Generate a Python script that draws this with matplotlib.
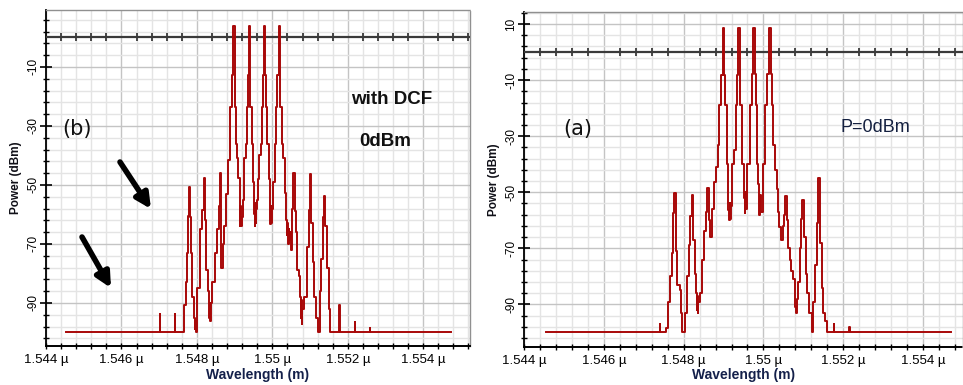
import numpy as np
import matplotlib
matplotlib.use("Agg")
import matplotlib.pyplot as plt
from matplotlib.ticker import MultipleLocator, FuncFormatter

plt.rcParams['font.family'] = ['Liberation Sans', 'DejaVu Sans']

# ---- data (wavelength in nm, power in dBm) ----
# panel (b): with DCF, 0 dBm  (step trace vertices)
wl_b = [1544.54, 1547.01, 1547.03, 1547.41, 1547.43, 1547.67, 1547.71, 1547.74,
        1547.77, 1547.79, 1547.82, 1547.85, 1547.88, 1547.93, 1547.95, 1547.96,
        1547.97, 1547.99, 1548.01, 1548.08, 1548.14, 1548.18, 1548.21, 1548.24,
        1548.30, 1548.31, 1548.32, 1548.33, 1548.34, 1548.36, 1548.38, 1548.41,
        1548.47, 1548.53, 1548.58, 1548.61, 1548.64, 1548.68, 1548.72, 1548.77,
        1548.83, 1548.87, 1548.92, 1548.97, 1549.00, 1549.04, 1549.07, 1549.10,
        1549.13, 1549.14, 1549.15, 1549.16, 1549.17, 1549.18, 1549.20, 1549.22,
        1549.25, 1549.29, 1549.32, 1549.35, 1549.38, 1549.41, 1549.45, 1549.48,
        1549.52, 1549.54, 1549.55, 1549.56, 1549.58, 1549.60, 1549.62, 1549.65,
        1549.69, 1549.72, 1549.75, 1549.78, 1549.81, 1549.84, 1549.87, 1549.90,
        1549.93, 1549.94, 1549.95, 1549.96, 1549.97, 1549.99, 1550.02, 1550.06,
        1550.10, 1550.13, 1550.18, 1550.21, 1550.25, 1550.28, 1550.33, 1550.36,
        1550.38, 1550.40, 1550.42, 1550.44, 1550.45, 1550.47, 1550.49, 1550.53,
        1550.56, 1550.59, 1550.62, 1550.66, 1550.71, 1550.74, 1550.76, 1550.77,
        1550.78, 1550.79, 1550.85, 1550.91, 1550.96, 1550.99, 1551.02, 1551.07,
        1551.11, 1551.17, 1551.21, 1551.26, 1551.30, 1551.35, 1551.37, 1551.40,
        1551.46, 1551.51, 1551.54, 1551.78, 1551.80, 1552.18, 1552.20, 1552.58,
        1552.60, 1554.74]
pw_b = [-100, -93.8, -100, -93.8, -100, -90.7, -83, -73,
        -60.7, -50.6, -61, -73, -88, -95, -99, -96,
        -100, -96, -85, -65, -58.5, -47.6, -62, -79,
        -86, -93, -88, -95, -90, -96, -90, -83,
        -73, -65, -57, -45.8, -78, -70, -64, -53,
        -41.5, -23.5, -12.7, 3.9, -23.5, -36, -41, -47.7,
        -60, -64, -57, -64, -59, -64, -61, -55,
        -41, -36, -23.5, -12.7, 3.9, -23.5, -36, -49,
        -60, -64, -56, -63, -58, -55, -48, -40,
        -36, -23.5, -12.7, 3.9, -12.7, -23.5, -36, -48,
        -62, -55, -63.4, -57, -63, -58, -49, -36,
        -23.5, -12.7, 3.9, -23.5, -36, -41, -52.7, -62,
        -67, -63, -70, -65, -68.6, -66, -72, -58,
        -46, -59, -66, -79, -81, -88, -95, -89,
        -97, -92, -88, -71, -58.5, -46.3, -63, -76,
        -88, -95, -100, -86, -75, -61, -53.7, -64,
        -78, -92, -100, -90.7, -100, -96.3, -100, -98.6,
        -100, -100]

# panel (a): P = 0 dBm
wl_a = [1544.55, 1547.40, 1547.42, 1547.57, 1547.60, 1547.65, 1547.70, 1547.74,
        1547.77, 1547.80, 1547.84, 1547.90, 1547.93, 1547.97, 1548.03, 1548.08,
        1548.13, 1548.17, 1548.20, 1548.23, 1548.28, 1548.32, 1548.33, 1548.34,
        1548.35, 1548.37, 1548.40, 1548.45, 1548.50, 1548.55, 1548.59, 1548.63,
        1548.67, 1548.71, 1548.75, 1548.80, 1548.85, 1548.89, 1548.94, 1548.98,
        1549.01, 1549.04, 1549.08, 1549.12, 1549.14, 1549.15, 1549.17, 1549.19,
        1549.22, 1549.27, 1549.31, 1549.33, 1549.37, 1549.41, 1549.46, 1549.50,
        1549.52, 1549.54, 1549.55, 1549.57, 1549.60, 1549.66, 1549.71, 1549.75,
        1549.78, 1549.81, 1549.84, 1549.87, 1549.89, 1549.90, 1549.92, 1549.94,
        1549.98, 1550.05, 1550.09, 1550.14, 1550.18, 1550.21, 1550.24, 1550.29,
        1550.33, 1550.36, 1550.40, 1550.43, 1550.48, 1550.52, 1550.55, 1550.58,
        1550.61, 1550.66, 1550.70, 1550.75, 1550.78, 1550.80, 1550.82, 1550.84,
        1550.87, 1550.92, 1550.95, 1550.97, 1551.01, 1551.06, 1551.10, 1551.14,
        1551.21, 1551.25, 1551.29, 1551.33, 1551.36, 1551.41, 1551.46, 1551.50,
        1551.55, 1551.59, 1551.76, 1551.78, 1552.15, 1552.17, 1554.69]
pw_a = [-100, -96.9, -100, -98.4, -89, -80, -71.8, -57.4,
        -50.4, -71, -83, -85, -93, -100, -93, -80,
        -69, -58.6, -51, -67, -79, -86, -92, -87,
        -93, -89, -86, -74, -64, -57, -48.6, -60,
        -66, -56, -46.4, -41, -33.2, -18.9, -8.2, 8.5,
        -8.2, -18.9, -39.8, -56.5, -60, -54, -59.6, -55,
        -39.8, -35, -18.9, -8.2, 8.5, -18.9, -39.8, -46,
        -52, -57.5, -50, -56, -40, -18.9, -8, 8.5,
        -8, -18.9, -40, -47, -53, -58.2, -51, -57,
        -40, -18.9, -8, 8.5, -8, -18.9, -33, -42,
        -49, -57, -62.4, -67, -62, -58, -51.2, -60,
        -70, -74, -78, -81, -86, -91, -93, -88,
        -82, -70, -59.6, -52.9, -66, -79, -86, -93,
        -100, -89, -76, -61, -45.1, -68, -84, -93,
        -96, -100, -97.1, -100, -98, -100, -100]

# ---- figure ----
W, H = 963, 385
fig = plt.figure(figsize=(W / 100, H / 100), dpi=100)

line_c = '#a80808'
label_c = '#101018'


def style_axes(ax, ylim, xlim):
    ax.set_xlim(*xlim)
    ax.set_ylim(*ylim)
    ax.xaxis.set_major_locator(MultipleLocator(0.002))
    ax.xaxis.set_minor_locator(MultipleLocator(0.0004))
    ax.yaxis.set_major_locator(MultipleLocator(20, offset=10))
    ax.yaxis.set_minor_locator(MultipleLocator(4, offset=2))
    ax.xaxis.set_major_formatter(FuncFormatter(lambda v, p: f"{v:.4g} \u00b5"))
    ax.yaxis.set_major_formatter(FuncFormatter(lambda v, p: f"{v:g}"))
    ax.grid(which='major', color='#c4c4c4', lw=1.0)
    ax.grid(which='minor', color='#e4e4e4', lw=1.0)
    ax.set_axisbelow(True)
    ax.tick_params(axis='y', which='major', direction='inout', length=8, width=1.2,
                   labelsize=8.5, labelrotation=90, pad=1)
    ax.tick_params(axis='y', which='minor', direction='inout', length=5, width=1)
    ax.tick_params(axis='x', which='both', direction='inout', length=4, width=1,
                   labelsize=9.5, pad=4)
    for lab in ax.get_yticklabels():
        lab.set_va('center')
    for s in ('top', 'right'):
        ax.spines[s].set_linestyle((0, (1, 1)))
        ax.spines[s].set_color('#909090')
        ax.spines[s].set_linewidth(1.0)
    ax.spines['bottom'].set_linestyle((0, (1, 1)))
    ax.spines['bottom'].set_linewidth(1.4)
    ax.spines['left'].set_linewidth(1.3)
    # zero-dBm reference line with its small ticks
    ax.axhline(0, color='#3a3a3a', lw=1.6, zorder=3)
    xs = ax.xaxis.get_minorticklocs()
    xs = xs[(xs > xlim[0]) & (xs < xlim[1])]
    ax.plot(xs, np.zeros_like(xs), ls='', marker='|', ms=6, mew=1.3,
            color='#3a3a3a', zorder=3)
    ax.set_xlabel('Wavelength (m)', fontsize=10, fontweight='bold',
                  color='#14204a', labelpad=1)
    ax.set_ylabel('Power (dBm)', fontsize=8.5, fontweight='bold', color=label_c,
                  labelpad=4)


# left panel (b)
ax1 = fig.add_axes([46 / W, 1 - 346 / H, 424 / W, 336 / H])
ax1.plot(np.array(wl_b) / 1000, pw_b, drawstyle='steps-post', color=line_c,
         lw=1.4, zorder=4)
style_axes(ax1, (-104.6, 9.3), (1.544, 1.55524))
ax1.text(0.073, 0.646, '(b)', transform=ax1.transAxes, fontsize=15,
         family='DejaVu Sans', color='#111111', ha='center', va='center')
ax1.text(0.815, 0.735, 'with DCF', transform=ax1.transAxes, fontsize=13.5,
         fontweight='bold', ha='center', va='center', color='#111111')
ax1.text(0.80, 0.61, '0dBm', transform=ax1.transAxes, fontsize=13.5,
         fontweight='bold', ha='center', va='center', color='#111111')

# arrows
for (x0, y0), (x1, y1) in [((120, 162), (151, 209)), ((82, 237), (111, 288))]:
    ax1.annotate('', xy=(x1, H - y1), xytext=(x0, H - y0),
                 xycoords='figure pixels', textcoords='figure pixels',
                 arrowprops=dict(arrowstyle='-|>', lw=4, color='black',
                                 mutation_scale=22, shrinkA=0, shrinkB=0))

# right panel (a)
ax2 = fig.add_axes([524 / W, 1 - 346.7 / H, 439 / W, 335 / H])
ax2.plot(np.array(wl_a) / 1000, pw_a, drawstyle='steps-post', color=line_c,
         lw=1.4, zorder=4)
style_axes(ax2, (-105.1, 14.4), (1.544, 1.555))
ax2.text(0.123, 0.65, '(a)', transform=ax2.transAxes, fontsize=15,
         family='DejaVu Sans', color='#111111', ha='center', va='center')
ax2.text(0.80, 0.653, 'P=0dBm', transform=ax2.transAxes, fontsize=13,
         ha='center', va='center', color='#142040')

fig.savefig('out.png', dpi=100)
